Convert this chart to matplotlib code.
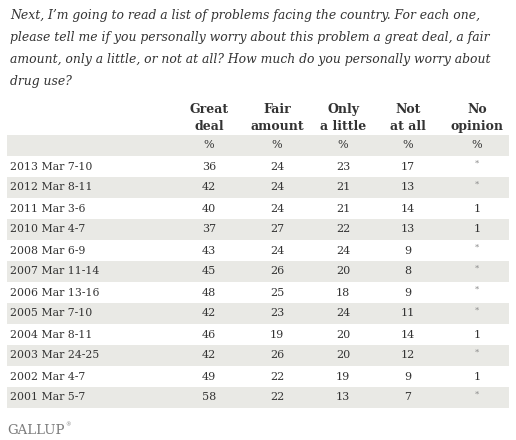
import matplotlib.pyplot as plt
from matplotlib.patches import Rectangle

# question text
title_lines = [
    "Next, I\u2019m going to read a list of problems facing the country. For each one,",
    "please tell me if you personally worry about this problem a great deal, a fair",
    "amount, only a little, or not at all? How much do you personally worry about",
    "drug use?",
]

# table data
columns = ["Great\ndeal", "Fair\namount", "Only\na little", "Not\nat all", "No\nopinion"]
dates = ["2013 Mar 7-10", "2012 Mar 8-11", "2011 Mar 3-6", "2010 Mar 4-7",
         "2008 Mar 6-9", "2007 Mar 11-14", "2006 Mar 13-16", "2005 Mar 7-10",
         "2004 Mar 8-11", "2003 Mar 24-25", "2002 Mar 4-7", "2001 Mar 5-7"]
great_deal = [36, 42, 40, 37, 43, 45, 48, 42, 46, 42, 49, 58]
fair_amount = [24, 24, 24, 27, 24, 26, 25, 23, 19, 26, 22, 22]
only_little = [23, 21, 21, 22, 24, 20, 18, 24, 20, 20, 19, 13]
not_at_all = [17, 13, 14, 13, 9, 8, 9, 11, 14, 12, 9, 7]
no_opinion = ["*", "*", "1", "1", "*", "*", "*", "*", "1", "*", "1", "*"]

# layout (pixels)
W, H = 516, 440
col_x = [209, 277, 343, 408, 477]
row_h = 21
pct_top = 135
left, right = 7, 509
gray = "#e9e9e5"
txt = "#333333"
serif = ["DejaVu Serif"]

fig = plt.figure(figsize=(W / 100, H / 100), dpi=100)
ax = fig.add_axes([0, 0, 1, 1])
ax.set_xlim(0, W)
ax.set_ylim(H, 0)
ax.axis("off")

# title
for i, line in enumerate(title_lines):
    ax.text(10, 15 + i * 22, line, fontsize=8.9, style="italic", family=serif,
            color=txt, va="center", ha="left")

# column headers
for x, c in zip(col_x, columns):
    ax.text(x, 118, c, fontsize=9, fontweight="bold", family=serif, color=txt,
            ha="center", va="center", linespacing=1.35)

# % row
ax.add_patch(Rectangle((left, pct_top), right - left, row_h, color=gray, lw=0))
for x in col_x:
    ax.text(x, pct_top + row_h / 2, "%", fontsize=8, family=serif, color=txt,
            ha="center", va="center")

cols = [great_deal, fair_amount, only_little, not_at_all, no_opinion]
for i, d in enumerate(dates):
    top = pct_top + (i + 1) * row_h
    if i % 2 == 1:
        ax.add_patch(Rectangle((left, top), right - left, row_h, color=gray, lw=0))
    yc = top + row_h / 2
    ax.text(10, yc, d, fontsize=7.8, family=serif, color=txt, ha="left", va="center")
    for x, vals in zip(col_x, cols):
        v = str(vals[i])
        if v == "*":
            ax.text(x, yc - 3, "*", fontsize=6, family=serif, color="#888888",
                    ha="center", va="center")
        else:
            ax.text(x, yc, v, fontsize=8, family=serif, color=txt,
                    ha="center", va="center")

ax.text(7, 430, "GALLUP", fontsize=9.5, family=serif, color="#7a7a7a",
        ha="left", va="center")
ax.text(65, 425, "\u00ae", fontsize=4, family=serif, color="#7a7a7a",
        ha="left", va="center")

fig.savefig("out.png", dpi=100)
